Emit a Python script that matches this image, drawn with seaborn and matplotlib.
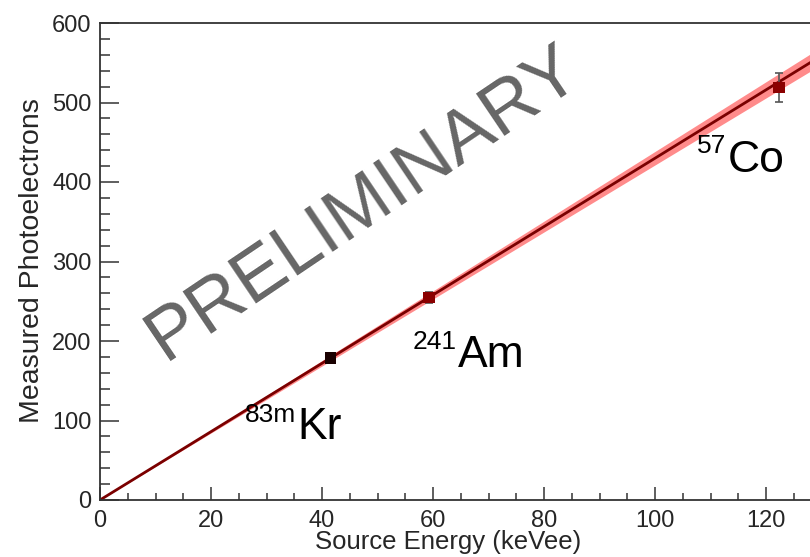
import numpy as np
import pandas as pd
import matplotlib
matplotlib.use("Agg")
import matplotlib.pyplot as plt
from matplotlib.ticker import MultipleLocator
import seaborn as sns

# Calibration sources: energy (keVee) and measured photoelectrons
sources = ["83mKr", "241Am", "57Co"]
energy_kev = [41.5, 59.3, 122.3]
photoelectrons = [179.0, 254.5, 519.0]
pe_error = [3.0, 7.0, 18.0]
marker_colors = ["#1a0000", "#8b0000", "#8b0000"]

# Linear fit through the origin and its uncertainty
fit_slope = 4.30
fit_slope_err = 0.085

# Source labels: isotope mass (superscript) and element symbol, in data coords
label_mass = ["83m", "241", "57"]
label_elem = ["Kr", "Am", "Co"]
label_x = [35.5, 64.5, 113.0]
label_y = [77.0, 167.0, 413.0]
label_sup_y = [98.0, 190.0, 436.0]

sns.set_theme(style="ticks")
plt.rcParams["font.family"] = ["Liberation Sans", "DejaVu Sans"]

fig = plt.figure(figsize=(8.10, 5.57), dpi=100)
ax = fig.add_axes([100 / 810, 57 / 557, 710 / 810, 477 / 557])

xmax = 127.9
fit_x = np.linspace(0, xmax + 2, 200)
fit_df = pd.DataFrame({"x": fit_x, "y": fit_slope * fit_x})
ax.fill_between(fit_x, (fit_slope - fit_slope_err) * fit_x,
                (fit_slope + fit_slope_err) * fit_x,
                color="#ff6464", alpha=0.75, lw=0, zorder=1)
sns.lineplot(data=fit_df, x="x", y="y", ax=ax, color="#7a0000", lw=2.0, zorder=2)

ax.errorbar(energy_kev, photoelectrons, yerr=pe_error, fmt="none",
            ecolor="#555555", elinewidth=1.2, capsize=3, capthick=1.2, zorder=3)
pts = pd.DataFrame({"E": energy_kev, "PE": photoelectrons, "src": sources})
sns.scatterplot(data=pts, x="E", y="PE", hue="src", palette=marker_colors,
                marker="s", s=70, edgecolor="none", legend=False, ax=ax, zorder=4)

for m, el, x, y, ys in zip(label_mass, label_elem, label_x, label_y, label_sup_y):
    ax.text(x, y, el, fontsize=32, ha="left", va="baseline", color="black")
    ax.text(x - 0.2, ys, m, fontsize=19, ha="right", va="baseline", color="black")

ax.text(47.5, 373, "PRELIMINARY", fontsize=54, color="#666666", rotation=34,
        rotation_mode="anchor", ha="center", va="center", zorder=0)

ax.set_xlim(0, xmax)
ax.set_ylim(0, 600)
ax.xaxis.set_major_locator(MultipleLocator(20))
ax.xaxis.set_minor_locator(MultipleLocator(5))
ax.yaxis.set_major_locator(MultipleLocator(100))
ax.yaxis.set_minor_locator(MultipleLocator(20))
ax.tick_params(axis="x", which="major", direction="in", length=9.5, width=1.1,
               pad=7, labelsize=17, color="#333333")
ax.tick_params(axis="x", which="minor", direction="in", length=5, width=1.1,
               color="#333333")
ax.tick_params(axis="y", which="major", direction="in", length=14, width=1.1,
               pad=6, labelsize=17, color="#333333")
ax.tick_params(axis="y", which="minor", direction="in", length=7, width=1.1,
               color="#333333")
ax.spines["right"].set_visible(False)
for s in ["left", "bottom", "top"]:
    ax.spines[s].set_linewidth(1.3)
    ax.spines[s].set_color("#333333")

ax.set_xlabel("Source Energy (keVee)", fontsize=18.5, va="top")
ax.xaxis.set_label_coords(0.49, -0.062)
ax.set_ylabel("Measured Photoelectrons", fontsize=20.5, va="center")
ax.yaxis.set_label_coords(-0.096, 0.502)

fig.savefig("out.png", dpi=100)
